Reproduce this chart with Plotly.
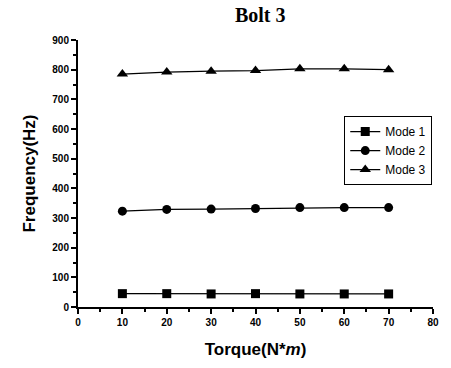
import plotly.graph_objects as go

torque = [10, 20, 30, 40, 50, 60, 70]
mode1 = [45, 45, 44, 45, 44, 44, 44]
mode2 = [323, 329, 330, 332, 335, 335, 335]
mode3 = [785, 792, 795, 797, 803, 803, 800]
series_names = ["Mode 1", "Mode 2", "Mode 3"]
symbols = ["square", "circle", "triangle-up"]
sizes = [9, 9, 10]

fig = go.Figure()
for name, vals, sym, sz in zip(series_names, [mode1, mode2, mode3], symbols, sizes):
    fig.add_trace(go.Scatter(
        x=torque, y=vals, name=name, mode="lines+markers",
        line=dict(color="black", width=1.2),
        marker=dict(symbol=sym, size=sz, color="black"),
    ))

fig.update_layout(
    width=451, height=368,
    margin=dict(l=78, r=12, t=40, b=58),
    paper_bgcolor="white", plot_bgcolor="white",
    title=dict(text="<b>Bolt 3</b>", x=0.577, xanchor="center", y=0.96, yanchor="middle",
               font=dict(family="Liberation Serif", size=20, color="black")),
    showlegend=True,
    legend=dict(x=0.75, y=0.715, xanchor="left", yanchor="top",
                bordercolor="black", borderwidth=1, bgcolor="white",
                font=dict(family="Liberation Sans", size=12, color="black"),
                tracegroupgap=0, itemwidth=30),
    font=dict(family="Liberation Sans", color="black"),
)
fig.update_xaxes(
    range=[0, 80], dtick=10, tick0=0,
    showline=True, linecolor="black", linewidth=2, showgrid=False, zeroline=False,
    ticks="outside", ticklen=5, tickwidth=1.5, tickcolor="black",
    minor=dict(ticks="outside", ticklen=3, dtick=5, tickcolor="black"),
    tickfont=dict(family="Liberation Sans", size=10, color="black", weight="bold"),
    title=dict(text="<b>Torque(N*<i>m</i>)</b>", standoff=16,
               font=dict(family="Liberation Sans", size=17, color="black")),
)
fig.update_yaxes(
    range=[0, 900], dtick=100, tick0=0,
    showline=True, linecolor="black", linewidth=2, showgrid=False, zeroline=False,
    ticks="outside", ticklen=5, tickwidth=1.5, tickcolor="black",
    minor=dict(ticks="outside", ticklen=3, dtick=50, tickcolor="black"),
    tickfont=dict(family="Liberation Sans", size=10, color="black", weight="bold"),
    title=dict(text="<b>Frequency(Hz)</b>", standoff=12,
               font=dict(family="Liberation Sans", size=17, color="black")),
)

fig.write_html("out.html", config={"displayModeBar": False},
               post_script="document.body.style.margin='0';document.body.style.padding='0';")
